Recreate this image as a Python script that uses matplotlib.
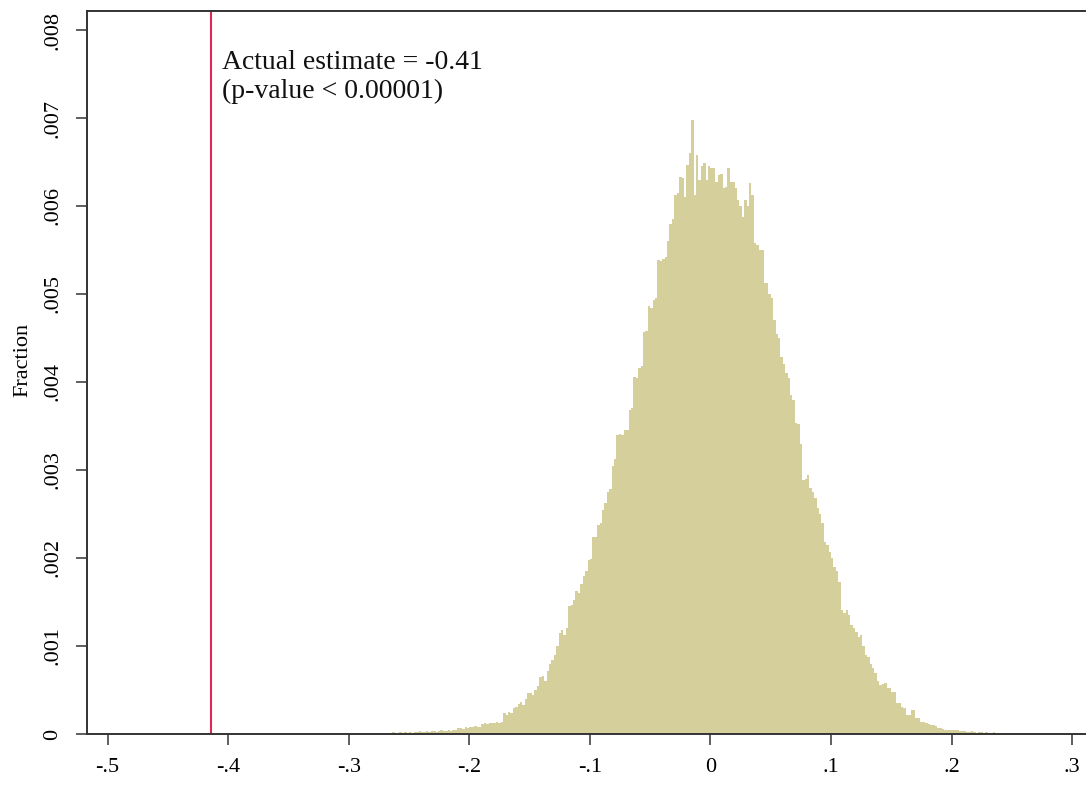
# Permutation distribution of the estimate vs. the actual estimate
import numpy as np
import matplotlib.pyplot as plt

plt.rcParams['font.family'] = ['Liberation Serif', 'DejaVu Serif']

# histogram: bins of width 0.002 starting at -0.270, heights in units of 1e-5 (fraction)
bin_start = -0.270
bin_width = 0.002
heights = [
    0, 1, 0, 2, 1, 0, 2, 1, 2, 1,
    2, 1, 2, 2, 3, 2, 2, 3, 2, 3,
    3, 2, 3, 4, 3, 3, 4, 3, 5, 4,
    7, 7, 6, 8, 7, 8, 8, 9, 8, 8,
    11, 12, 11, 13, 12, 13, 14, 13, 14, 24,
    22, 25, 24, 30, 31, 34, 36, 33, 40, 47,
    47, 44, 50, 54, 65, 66, 60, 72, 80, 84,
    90, 100, 115, 118, 112, 120, 145, 146, 152, 162,
    160, 170, 180, 185, 198, 199, 224, 224, 238, 240,
    255, 262, 275, 278, 305, 312, 340, 341, 340, 345,
    345, 368, 370, 406, 405, 416, 418, 457, 458, 486,
    484, 493, 495, 539, 538, 540, 542, 560, 580, 585,
    612, 615, 633, 632, 610, 647, 660, 698, 612, 658,
    630, 645, 649, 630, 645, 643, 643, 627, 635, 636,
    620, 622, 643, 627, 627, 620, 607, 600, 588, 607,
    600, 626, 612, 558, 556, 550, 550, 512, 512, 500,
    495, 470, 455, 450, 428, 420, 410, 405, 385, 380,
    353, 352, 330, 289, 290, 294, 280, 275, 268, 257,
    250, 240, 218, 215, 207, 200, 190, 185, 173, 141,
    138, 141, 135, 124, 120, 116, 110, 112, 100, 90,
    88, 80, 75, 69, 60, 56, 57, 58, 52, 52,
    48, 48, 35, 35, 31, 30, 22, 22, 27, 27,
    18, 18, 14, 14, 13, 11, 10, 10, 9, 7,
    7, 6, 5, 5, 5, 4, 5, 4, 3, 3,
    3, 2, 2, 3, 2, 1, 2, 2, 1, 2,
    1, 1, 2, 1, 0, 1, 1, 0, 1, 0,
    1, 0, 0, 1, 0,
]

actual_estimate = -0.414
note = 'Actual estimate = -0.41\n(p-value < 0.00001)'

xticks = [-0.5, -0.4, -0.3, -0.2, -0.1, 0, 0.1, 0.2, 0.3]
xticklabels = ['-.5', '-.4', '-.3', '-.2', '-.1', '0', '.1', '.2', '.3']
yticks = [0, 0.001, 0.002, 0.003, 0.004, 0.005, 0.006, 0.007, 0.008]
yticklabels = ['0', '.001', '.002', '.003', '.004', '.005', '.006', '.007', '.008']

frac = np.array(heights) * 1e-5
left = bin_start + bin_width * np.arange(len(frac))

fig = plt.figure(figsize=(10.86, 7.86), dpi=100)
ax = fig.add_axes([0.0804, 0.0662, 0.9196, 0.9198])

ax.bar(left, frac, width=bin_width, align='edge', color='#d5d09b', linewidth=0)
ax.axvline(actual_estimate, color='#d92a55', linewidth=1.5)
ax.text(-0.405, 0.00777, note, fontsize=20, va='top', ha='left', color='#111111',
        linespacing=1.2)

ax.set_xlim(-0.5168, 0.3114)
ax.set_ylim(0, 0.008216)

ax.set_xticks(xticks)
ax.set_xticklabels(xticklabels)
ax.set_yticks(yticks)
ax.set_yticklabels(yticklabels, rotation=90, va='center')
ax.tick_params(direction='out', length=8, width=1.2, color='#444444', labelsize=16)
ax.tick_params(axis='x', pad=9)
ax.tick_params(axis='y', pad=10)
ax.set_ylabel('Fraction', fontsize=16)
ax.yaxis.set_label_coords(-0.0554, 0.517)

ax.spines['right'].set_visible(False)
for s in ['left', 'bottom', 'top']:
    ax.spines[s].set_linewidth(1.4)
    ax.spines[s].set_color('#333333')

plt.savefig('out.png', dpi=100)
